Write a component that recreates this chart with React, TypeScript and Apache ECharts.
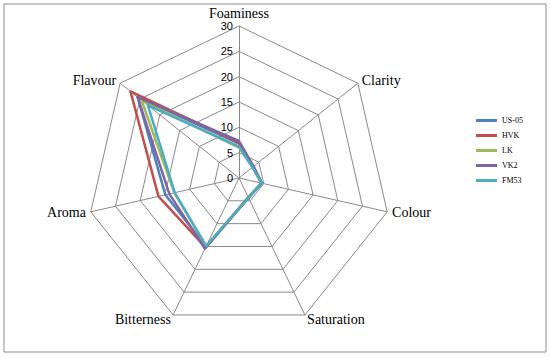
import React, { useEffect, useRef } from "react";
import * as echarts from "echarts";

// Attributes in clockwise order starting from the top
const attributes = ["Foaminess", "Clarity", "Colour", "Saturation", "Bitterness", "Aroma", "Flavour"];
const seriesNames = ["US-05", "HVK", "LK", "VK2", "FM53"];
const us05 = [6.8, 3.6, 4.6, 4.3, 15.0, 14.9, 25.6];
const hvk = [7.0, 3.5, 4.6, 4.3, 15.2, 16.3, 27.4];
const lk = [6.0, 3.4, 4.5, 4.2, 15.0, 13.1, 24.6];
const vk2 = [7.3, 3.7, 4.6, 4.3, 15.5, 14.1, 25.6];
const fm53 = [6.2, 3.4, 4.6, 4.3, 14.9, 13.0, 23.0];
const seriesValues = [us05, hvk, lk, vk2, fm53];
const colors = ["#4F81BD", "#C0504D", "#9BBB59", "#8064A2", "#4BACC6"];
const axisMax = 30;
const tickStep = 5;

// ECharts places indicators counter-clockwise; reorder so they appear clockwise
const order = [0, ...attributes.slice(1).map((_, i) => attributes.length - 1 - i)];

export default function App() {
  const ref = useRef<HTMLDivElement>(null);
  useEffect(() => {
    if (!ref.current) return;
    const chart = echarts.init(ref.current, null, { renderer: "svg" });
    chart.setOption({
      animation: false,
      backgroundColor: "#ffffff",
      color: colors,
      graphic: [
        {
          type: "rect",
          shape: { x: 4, y: 4, width: 542, height: 348 },
          style: { fill: "none", stroke: "#8c8c8c", lineWidth: 1 },
          silent: true,
        },
      ],
      legend: {
        orient: "vertical",
        left: 471,
        top: 111,
        icon: "rect",
        itemWidth: 21,
        itemHeight: 3,
        itemGap: 6,
        data: seriesNames,
        textStyle: { fontFamily: "Liberation Serif", fontSize: 8, color: "#000", lineHeight: 9 },
      },
      radar: {
        center: [239, 178],
        radius: 152,
        startAngle: 90,
        shape: "polygon",
        splitNumber: axisMax / tickStep,
        axisName: {
          color: "#000",
          fontFamily: "Liberation Serif",
          fontSize: 14,
        },
        nameGap: 5,
        splitLine: { lineStyle: { color: "#8a8a8a", width: 1 } },
        splitArea: { show: false },
        axisLine: { lineStyle: { color: "#8a8a8a", width: 1 } },
        axisLabel: { show: false },
        indicator: order.map((idx, k) => ({
          name: attributes[idx],
          min: 0,
          max: axisMax,
          ...(k === 0
            ? {
                axisLabel: {
                  show: true,
                  color: "#000",
                  fontFamily: "Liberation Sans",
                  fontSize: 11,
                  margin: 6,
                },
              }
            : {}),
        })),
      },
      series: [
        {
          type: "radar",
          symbol: "none",
          data: seriesNames.map((name, i) => ({
            name,
            value: order.map((idx) => seriesValues[i][idx]),
            lineStyle: { color: colors[i], width: 2.5 },
            itemStyle: { color: colors[i] },
          })),
        },
      ],
    });
    return () => chart.dispose();
  }, []);
  return (
    <div
      ref={ref}
      style={{ position: "fixed", left: 0, top: 0, width: 550, height: 358 }}
    />
  );
}
